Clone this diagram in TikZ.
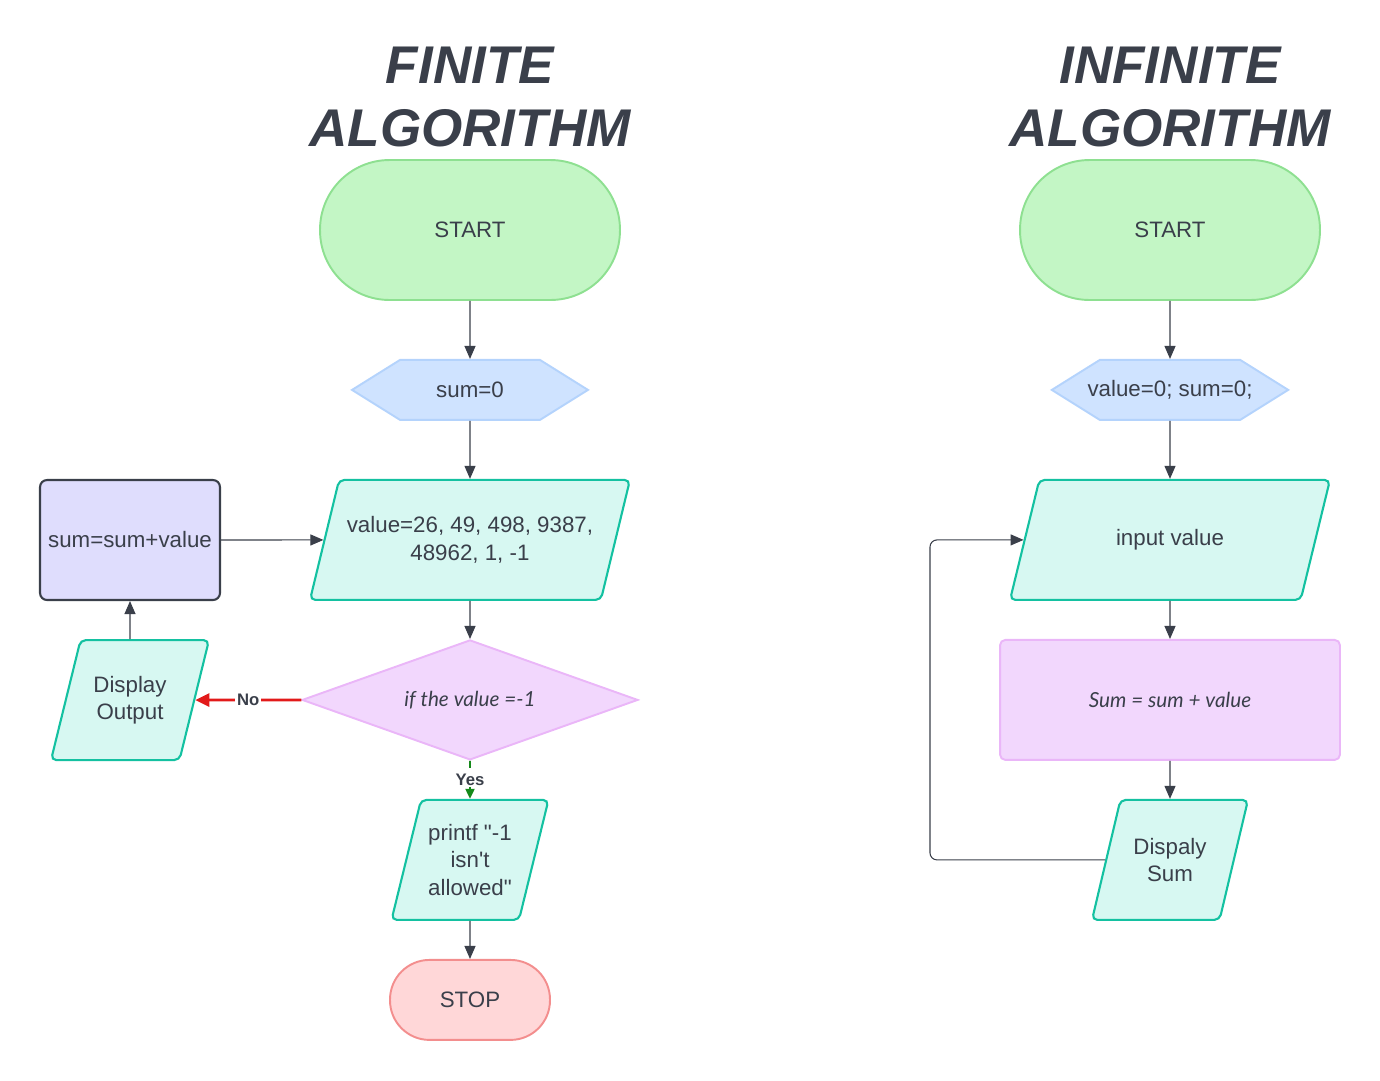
\documentclass[tikz,border=0pt]{standalone}
\usepackage{fontspec}
\setmainfont{Liberation Sans}[Ligatures=TeXOff]
\newfontfamily\latofont{Lato}
\usepackage{tikz}
\usetikzlibrary{shapes.geometric, shapes.symbols, arrows.meta, positioning}
\usepackage{xcolor}
\definecolor{ink}{HTML}{3A3F4A}
\definecolor{startfill}{HTML}{C3F6C5}
\definecolor{startline}{HTML}{8EE091}
\definecolor{stopfill}{HTML}{FFD7D8}
\definecolor{stopline}{HTML}{F38E8E}
\definecolor{prepfill}{HTML}{CFE3FF}
\definecolor{prepline}{HTML}{B4D3FC}
\definecolor{iofill}{HTML}{D7F8F2}
\definecolor{ioline}{HTML}{14C1A1}
\definecolor{addfill}{HTML}{DFDDFD}
\definecolor{pinkfill}{HTML}{F2D7FD}
\definecolor{pinkline}{HTML}{EAB6F8}
\definecolor{nored}{HTML}{E21A1A}
\definecolor{yesgreen}{HTML}{15891A}
\newcommand{\bodyfont}{\fontsize{12.7}{15.5}\selectfont}
\tikzstyle{title}    = [align=center, font=\fontsize{30.2}{36.4}\selectfont\bfseries\itshape]
\tikzstyle{terminal} = [rectangle, rounded corners=1.39cm, minimum width=6cm, minimum height=2.8cm,
                        draw=startline, fill=startfill, line width=1.1pt]
\tikzstyle{prep}     = [signal, signal to=west and east, signal pointer angle=64, minimum width=4.72cm,
                        minimum height=1.2cm, inner xsep=-7pt, draw=prepline, fill=prepfill, line width=1.1pt]
% inner ysep sets the slant height: 20pt fits two lines of text
\tikzstyle{io}       = [trapezium, trapezium left angle=76, trapezium right angle=104, trapezium stretches body=true,
                        minimum height=2.4cm, inner ysep=20pt, rounded corners=3pt, draw=ioline, fill=iofill,
                        line width=1.2pt, align=center]
\tikzstyle{process}  = [rectangle, rounded corners=4pt, minimum width=3.6cm, minimum height=2.4cm,
                        draw=ink, fill=addfill, line width=1.2pt]
\tikzstyle{decision} = [diamond, aspect=2.8, minimum width=6.72cm, minimum height=2.4cm, inner sep=0pt,
                        draw=pinkline, fill=pinkfill, line width=1.1pt, font=\latofont\itshape\fontsize{11.8}{14}\selectfont]
\tikzstyle{calcbox}  = [rectangle, rounded corners=3pt, minimum width=6.8cm, minimum height=2.4cm,
                        draw=pinkline, fill=pinkfill, line width=1.1pt, font=\latofont\itshape\fontsize{11.8}{14}\selectfont]
\tikzstyle{arrow}    = [line width=0.6pt, draw=ink, -{Triangle[length=0.26cm, width=0.22cm]}]
\tikzstyle{noarrow}  = [line width=1.5pt, draw=nored, -{Triangle[length=0.28cm, width=0.26cm]}]
\tikzstyle{yesarrow} = [line width=1.1pt, draw=yesgreen, dash pattern=on 4pt off 3pt, -{Triangle[length=0.2cm, width=0.18cm]}]
\tikzstyle{flowlabel}= [fill=white, inner sep=1pt, font=\fontsize{9.5}{11}\selectfont\bfseries]

\begin{document}
\begin{tikzpicture}[x=0.02cm, y=-0.02cm, every node/.style={text=ink, font=\bodyfont}]
  \useasboundingbox (0,0) rectangle (1380,1080);

  % Titles
  \node (ftitle) [title] at (470,97)  {FINITE\\ALGORITHM};
  \node (ititle) [title] at (1170,97) {INFINITE\\ALGORITHM};

  % Finite algorithm
  \node (fstart) [terminal] at (470,230) {START};
  \node (fsum)   [prep, below=1.16cm of fstart] {sum=0};
  \node (fval)   [io, below=1.16cm of fsum, minimum width=6.4cm] {value=26, 49, 498, 9387,\\48962, 1, -1};
  \node (fcheck) [decision, below=0.76cm of fval] {if the value =-1};
  \node (fmsg)   [io, below=0.76cm of fcheck, minimum width=3.14cm, inner ysep=13.5pt] {printf "-1\\isn't\\allowed"};
  \node (fstop)  [terminal, below=0.76cm of fmsg, minimum width=3.2cm, minimum height=1.6cm,
                  rounded corners=0.79cm, draw=stopline, fill=stopfill] {STOP};
  \node (fadd)   [process] at (130,540) {sum=sum+value};
  \node (fout)   [io, below=0.76cm of fadd, minimum width=3.16cm] {Display\\Output};

  \draw[arrow] (fstart) -- (fsum);
  \draw[arrow] (fsum) -- (fval);
  \draw[arrow] (fval) -- (fcheck);
  \draw[yesarrow] (fcheck) -- node[flowlabel]{Yes} (fmsg);
  \draw[arrow] (fmsg) -- (fstop);
  \draw[noarrow] (fcheck) -- node[flowlabel]{No} (fout);
  \draw[arrow] (fout) -- (fadd);
  \draw[arrow] (fadd) -- (fval);

  % Infinite algorithm
  \node (istart) [terminal] at (1170,230) {START};
  \node (iinit)  [prep, below=1.16cm of istart] {value=0; sum=0;};
  \node (iin)    [io, below=1.16cm of iinit, minimum width=6.4cm, inner ysep=27.5pt] {input value};
  \node (iadd)   [calcbox, below=0.76cm of iin] {Sum = sum + value};
  \node (iout)   [io, below=0.76cm of iadd, minimum width=3.12cm] {Dispaly\\Sum};
  \coordinate (iback) at (930,700);

  \draw[arrow] (istart) -- (iinit);
  \draw[arrow] (iinit) -- (iin);
  \draw[arrow] (iin) -- (iadd);
  \draw[arrow] (iadd) -- (iout);
  \draw[arrow, rounded corners=4pt] (iout.left side) -| (iback) |- (iin.left side);

\end{tikzpicture}
\end{document}
